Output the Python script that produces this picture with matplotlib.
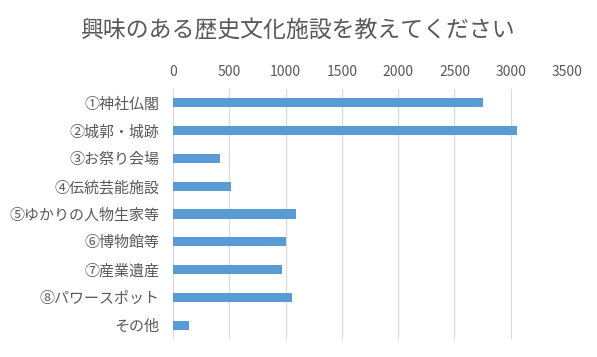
import matplotlib
matplotlib.use("Agg")
import matplotlib.pyplot as plt

plt.rcParams["font.family"] = ["Noto Sans CJK JP", "DejaVu Sans"]

categories = ["①神社仏閣", "②城郭・城跡", "③お祭り会場", "④伝統芸能施設",
              "⑤ゆかりの人物生家等", "⑥博物館等", "⑦産業遺産", "⑧パワースポット", "その他"]
values = [2755, 3058, 414, 514, 1095, 1006, 969, 1058, 146]
xticks = [0, 500, 1000, 1500, 2000, 2500, 3000, 3500]

text_color = "#595959"

fig = plt.figure(figsize=(5.97, 3.57), dpi=100)
ax = fig.add_axes([0.2898, 0.0504, 0.66, 0.7003])

ypos = list(range(len(categories)))
ax.barh(ypos, values, height=0.33, color="#5B9BD5", zorder=3)
ax.set_ylim(len(categories) - 0.5, -0.5)
ax.set_yticks(ypos)
ax.set_yticklabels(categories, fontsize=10.8, color=text_color)

ax.set_xlim(0, 3500)
ax.set_xticks(xticks)
ax.set_xticklabels([str(t) for t in xticks], fontsize=10, color=text_color)
ax.xaxis.tick_top()
ax.tick_params(axis="both", length=0)
ax.tick_params(axis="x", pad=7.5)
ax.tick_params(axis="y", pad=10)
ax.grid(axis="x", color="#D9D9D9", linewidth=0.8, zorder=0)
for s in ax.spines.values():
    s.set_visible(False)

fig.text(0.5, 0.914, "興味のある歴史文化施設を教えてください", ha="center", va="center",
         fontsize=16.5, color=text_color)

fig.savefig("out.png", dpi=100)
